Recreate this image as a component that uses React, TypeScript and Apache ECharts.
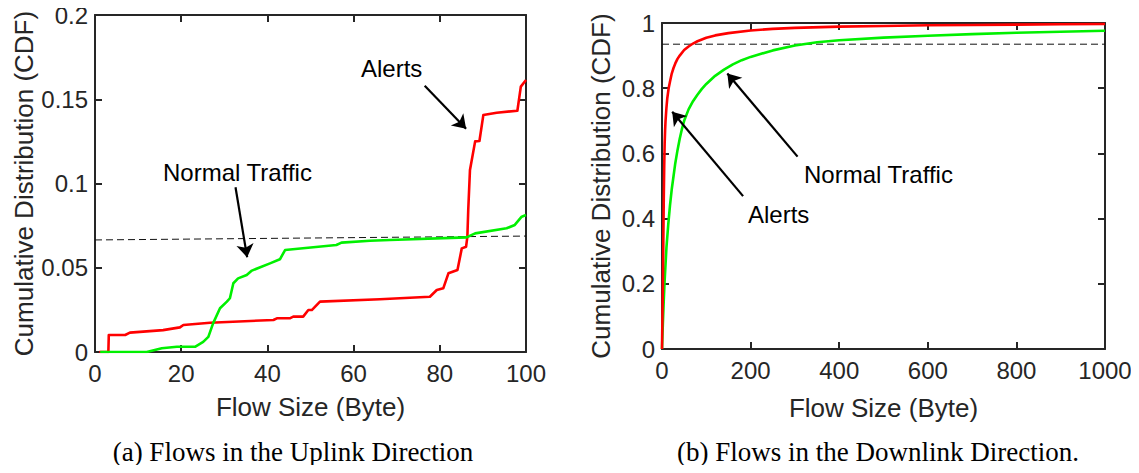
import React, { useEffect, useRef } from "react";
import * as echarts from "echarts";

// Uplink (a)
const upAlertsX = [1, 3.1, 3.2, 7, 8.1, 15.8, 19.7, 20.5, 26.7, 41.4, 42.2, 45.2, 46, 48.3, 49.5, 50.3, 52.2, 66.1, 77.7, 79.3, 80.8, 82, 84.1, 85.1, 86.1, 86.4, 86.6, 87, 88.2, 89.2, 90.1, 93.2, 98, 98.8, 100];
const upAlertsY = [0, 0, 0.0101, 0.0101, 0.0115, 0.013, 0.0146, 0.016, 0.0174, 0.019, 0.02, 0.02, 0.021, 0.021, 0.0249, 0.0249, 0.0299, 0.0313, 0.0328, 0.0368, 0.0378, 0.0467, 0.0487, 0.0615, 0.0625, 0.0685, 0.0843, 0.108, 0.125, 0.1252, 0.1406, 0.142, 0.1432, 0.1575, 0.1614];
const upNormalX = [1.2, 12, 15.5, 19, 23.2, 25.1, 26.3, 27.4, 29, 30.6, 31.3, 32.1, 33.2, 35.2, 36.4, 40.6, 42.9, 44.1, 56, 57.2, 63.8, 68.4, 86.2, 88.2, 95.5, 97.4, 99, 100];
const upNormalY = [0, 0, 0.0022, 0.0031, 0.0031, 0.006, 0.009, 0.017, 0.026, 0.0299, 0.0319, 0.0408, 0.0437, 0.0457, 0.0483, 0.0526, 0.055, 0.0605, 0.0635, 0.0649, 0.066, 0.0665, 0.068, 0.0704, 0.0734, 0.0754, 0.0803, 0.0813];
const upDashX = [0, 100];
const upDashY = [0.0665, 0.0688];
const upXTicks = { min: 0, max: 100, interval: 20 };
const upYTicks = { min: 0, max: 0.2, interval: 0.05 };

// Downlink (b)
const downAlertsX = [0, 1, 2, 3, 4, 5, 6, 7, 8, 10, 12, 15, 18, 22, 26, 30, 35, 40, 50, 60, 70, 80, 100, 120, 150, 200, 250, 300, 400, 500, 600, 700, 800, 900, 1000];
const downAlertsY = [0, 0.1, 0.2, 0.33, 0.46, 0.56, 0.63, 0.67, 0.7, 0.74, 0.77, 0.8, 0.82, 0.845, 0.862, 0.876, 0.89, 0.9, 0.917, 0.928, 0.937, 0.944, 0.955, 0.962, 0.969, 0.977, 0.982, 0.985, 0.989, 0.991, 0.993, 0.994, 0.995, 0.996, 0.997];
const downNormalX = [0, 2, 4, 6, 8, 10, 14, 18, 22, 26, 30, 35, 40, 45, 50, 60, 70, 80, 90, 100, 120, 140, 160, 180, 200, 250, 300, 350, 400, 500, 600, 700, 800, 900, 1000];
const downNormalY = [0, 0.08, 0.15, 0.21, 0.26, 0.31, 0.38, 0.44, 0.49, 0.53, 0.57, 0.61, 0.645, 0.675, 0.7, 0.735, 0.76, 0.78, 0.798, 0.813, 0.838, 0.857, 0.873, 0.886, 0.896, 0.916, 0.931, 0.941, 0.947, 0.955, 0.961, 0.966, 0.97, 0.973, 0.976];
const downDashX = [0, 1000];
const downDashY = [0.935, 0.935];
const downXTicks = { min: 0, max: 1000, interval: 200 };
const downYTicks = { min: 0, max: 1, interval: 0.2 };

// Annotation arrows: [tailX, tailY, headX, headY]
const upAlertArrow = [76.5, 0.158, 86.1, 0.1325];
const upNormalArrow = [32.6, 0.0978, 35.3, 0.0562];
const downAlertArrow = [183, 0.469, 23, 0.728];
const downNormalArrow = [306, 0.59, 147.5, 0.845];

const xName = "Flow Size (Byte)";
const yName = "Cumulative Distribution (CDF)";
const captionA = "(a) Flows in the Uplink Direction";
const captionB = "(b) Flows in the Downlink Direction.";

const zip = (xs: number[], ys: number[]) => xs.map((x, i) => [x, ys[i]]);

const FONT = "'Liberation Sans', Arial, Helvetica, sans-serif";
const SERIF = "'Liberation Serif', 'Times New Roman', serif";
const AX = "#262626";
const RED = "#ff0000";
const GREEN = "#00f000";

function mainXAxis(grid: number, t: any, nameGap: number) {
  return {
    type: "value", gridIndex: grid, position: "bottom", ...t,
    name: xName, nameLocation: "middle", nameGap,
    nameTextStyle: { fontSize: 26, color: AX, fontFamily: FONT },
    axisLine: { show: true, onZero: false, lineStyle: { color: AX, width: 2 } },
    axisTick: { show: true, inside: true, length: 7, lineStyle: { color: AX, width: 2 } },
    axisLabel: { fontSize: 24, color: AX, fontFamily: FONT, margin: 9, formatter: (v: number) => String(v) },
    splitLine: { show: false },
  };
}
function topXAxis(grid: number, t: any) {
  return {
    type: "value", gridIndex: grid, position: "top", ...t,
    axisLine: { show: true, onZero: false, lineStyle: { color: AX, width: 2 } },
    axisTick: { show: true, inside: true, length: 7, lineStyle: { color: AX, width: 2 } },
    axisLabel: { show: false }, splitLine: { show: false },
  };
}
function mainYAxis(grid: number, t: any, nameGap: number) {
  return {
    type: "value", gridIndex: grid, position: "left", ...t,
    name: yName, nameLocation: "middle", nameGap,
    nameTextStyle: { fontSize: 26, color: AX, fontFamily: FONT },
    axisLine: { show: true, onZero: false, lineStyle: { color: AX, width: 2 } },
    axisTick: { show: true, inside: true, length: 7, lineStyle: { color: AX, width: 2 } },
    axisLabel: { fontSize: 24, color: AX, fontFamily: FONT, margin: 7, formatter: (v: number) => String(v) },
    splitLine: { show: false },
  };
}
function rightYAxis(grid: number, t: any) {
  return {
    type: "value", gridIndex: grid, position: "right", ...t,
    axisLine: { show: true, onZero: false, lineStyle: { color: AX, width: 2 } },
    axisTick: { show: true, inside: true, length: 7, lineStyle: { color: AX, width: 2 } },
    axisLabel: { show: false }, splitLine: { show: false },
  };
}

function curve(name: string, xi: number, yi: number, data: number[][], color: string) {
  return {
    name, type: "line", xAxisIndex: xi, yAxisIndex: yi, data,
    showSymbol: false, symbol: "none", lineStyle: { color, width: 2.6, join: "round" }, z: 3,
  };
}
function dash(xi: number, yi: number, data: number[][]) {
  return {
    type: "line", xAxisIndex: xi, yAxisIndex: yi, data, showSymbol: false, symbol: "none",
    lineStyle: { color: "#111", width: 1, type: [7, 4] }, z: 2,
  };
}
function arrow(xi: number, yi: number, a: number[]) {
  return {
    type: "lines", coordinateSystem: "cartesian2d", xAxisIndex: xi, yAxisIndex: yi,
    symbol: ["none", "arrow"], symbolSize: [0, 13],
    lineStyle: { color: "#000", width: 2.2, opacity: 1, curveness: 0 },
    data: [{ coords: [[a[0], a[1]], [a[2], a[3]]] }], z: 4,
  };
}

export default function App() {
  const ref = useRef<HTMLDivElement>(null);
  useEffect(() => {
    if (!ref.current) return;
    const chart = echarts.init(ref.current, undefined, { renderer: "svg" });
    const txt = (text: string, x: number, y: number, size = 24, family = FONT, align = "left") => ({
      type: "text", x, y,
      style: { text, fontSize: size, fontFamily: family, fill: "#000", textAlign: align, textVerticalAlign: "middle", align, verticalAlign: "middle" },
    });
    chart.setOption({
      animation: false,
      backgroundColor: "#fff",
      grid: [
        { left: 95, top: 15, width: 431, height: 337 },
        { left: 662, top: 23, width: 443, height: 326 },
      ],
      xAxis: [
        mainXAxis(0, upXTicks, 42), topXAxis(0, upXTicks),
        mainXAxis(1, downXTicks, 46), topXAxis(1, downXTicks),
      ],
      yAxis: [
        mainYAxis(0, upYTicks, 57), rightYAxis(0, upYTicks),
        mainYAxis(1, downYTicks, 48), rightYAxis(1, downYTicks),
      ],
      series: [
        dash(0, 0, zip(upDashX, upDashY)),
        curve("Alerts", 0, 0, zip(upAlertsX, upAlertsY), RED),
        curve("Normal Traffic", 0, 0, zip(upNormalX, upNormalY), GREEN),
        arrow(0, 0, upAlertArrow),
        arrow(0, 0, upNormalArrow),
        dash(2, 2, zip(downDashX, downDashY)),
        curve("Normal Traffic", 2, 2, zip(downNormalX, downNormalY), GREEN),
        curve("Alerts", 2, 2, zip(downAlertsX, downAlertsY), RED),
        arrow(2, 2, downAlertArrow),
        arrow(2, 2, downNormalArrow),
      ],
      graphic: [
        txt("Alerts", 361, 68),
        txt("Normal Traffic", 163, 172),
        txt("Alerts", 748, 214),
        txt("Normal Traffic", 804, 174),
        txt(captionA, 293, 452, 27, SERIF, "center"),
        txt(captionB, 878, 452, 27, SERIF, "center"),
      ],
    });
    return () => chart.dispose();
  }, []);
  return <div ref={ref} style={{ width: 1139, height: 473, margin: -8 }} />;
}
